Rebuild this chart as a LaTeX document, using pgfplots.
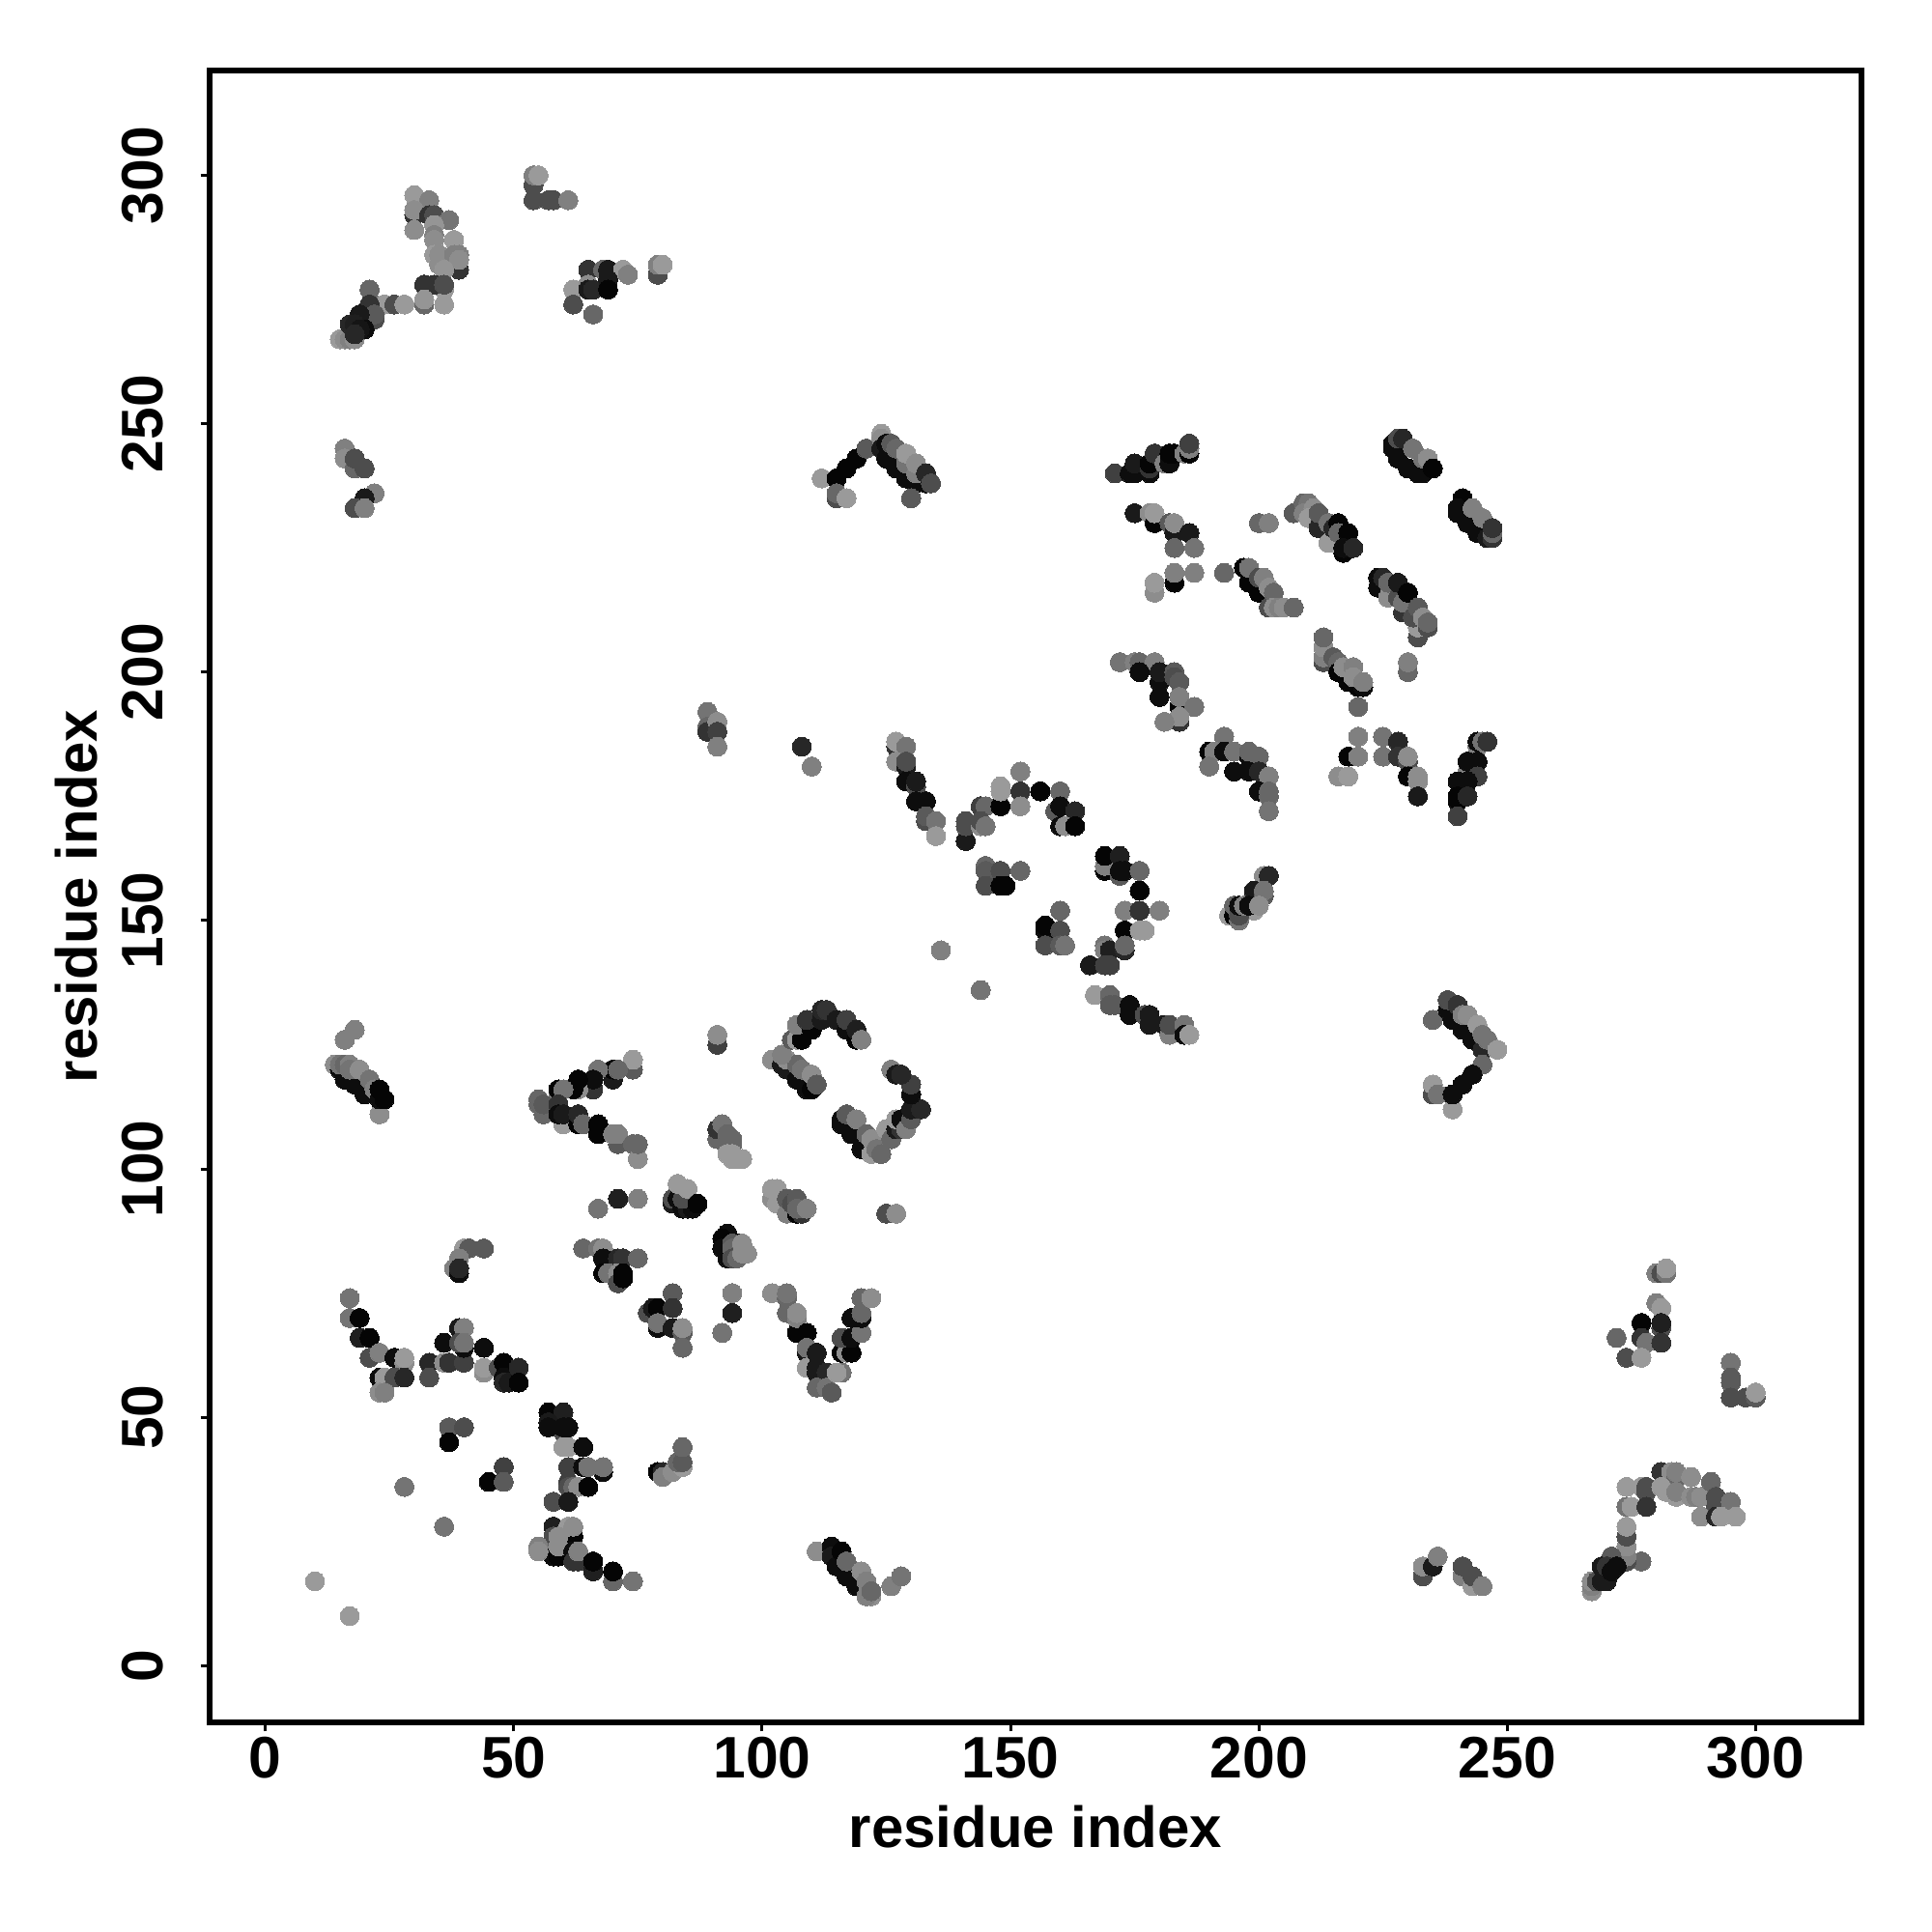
\documentclass[border=0pt]{standalone}
\usepackage{fontspec}
\setmainfont{Liberation Sans}
\usepackage{pgfplots}
\pgfplotsset{compat=1.18}
\begin{document}
\begin{tikzpicture}
\useasboundingbox (-1.736cm,-1.736cm) rectangle (14.264cm,14.264cm);
\begin{axis}[
  at={(0cm,0cm)}, anchor=south west, scale only axis,
  width=13.68cm, height=13.68cm,
  xmin=-11.2, xmax=321.3, ymin=-11.4, ymax=321.1,
  axis line style={line width=1.25pt},
  tick style={line width=0.7pt, black}, tick align=outside, major tick length=0.075cm,
  xtick={0,50,...,300}, ytick={0,50,...,300},
  xtick pos=lower, ytick pos=left,
  /pgf/number format/assume math mode=true,
  tick label style={font=\fontsize{13.8}{15}\selectfont\bfseries},
  xticklabel style={yshift=2.2pt},
  yticklabel style={rotate=90, anchor=south, yshift=5.2pt},
  label style={font=\fontsize{13.65}{16}\selectfont\bfseries},
  xlabel={residue index}, ylabel={residue index},
  xlabel style={at={(axis description cs:0.5,-0.063)}, anchor=center},
  ylabel style={at={(axis description cs:-0.0807,0.5)}, anchor=center},
  point meta min=0, point meta max=1,
  colormap={bw}{gray(0cm)=(0); gray(1cm)=(1)},
]
\addplot[scatter, only marks, mark=*, mark size=2.25pt, point meta=explicit,
  scatter/use mapped color={draw=mapped color, fill=mapped color}, mark options={line width=0pt}]
 table[row sep=\\, x=x, y=y, meta=g] {
x y g\\
30 296 .6\\ 33 295 .5\\ 30 292 .2\\ 30 293 .55\\ 30 289 .55\\ 33 292 .2\\ 34 292 .3\\ 37 291 .45\\ 34 290 .58\\ 34 288 .5\\ 34 287 .55\\ 38 287 .6\\ 39 281 .2\\ 34 284 .6\\ 35 284 .55\\ 35 282 .55\\ 38 284 .5\\ 39 284 .5\\ 39 283 .55\\ 36 281 .58\\ 36 277 .6\\ 32 278 .2\\ 34 278 .2\\ 36 278 .3\\ 32 274 .4\\ 32 275 .58\\ 36 274 .6\\ 22 274 .5\\ 24 274 .6\\ 26 274 .3\\ 28 274 .6\\ 21 277 .4\\ 21 274 .2\\ 22 271 .3\\ 22 272 .35\\ 15 267 .6\\ 16 267 .55\\ 17 267 .5\\ 18 267 .55\\ 19 272 .1\\ 17 270 .15\\ 18 270 .12\\ 20 269 .05\\ 19 269 .08\\ 18 268 .15\\
54 298 .3\\ 54 300 .5\\ 55 300 .6\\ 54 295 .3\\ 57 295 .3\\ 58 295 .3\\ 61 295 .5\\
65 281 .2\\ 68 281 .4\\ 69 281 .1\\ 72 281 .6\\ 73 280 .5\\ 62 277 .6\\ 65 278 .55\\ 65 277 .1\\ 66 277 .15\\ 69 279 .1\\ 69 277 .02\\ 62 274 .3\\ 66 272 .4\\ 79 280 .55\\ 79 280 .3\\ 79 282 .5\\ 80 282 .6\\
16 245 .5\\ 16 243 .55\\ 18 241 .4\\ 18 243 .3\\ 20 241 .3\\ 22 236 .5\\ 20 235 .1\\ 18 233 .3\\ 20 233 .5\\
112 239 .6\\ 115 239 .02\\ 117 241 .02\\ 119 243 .02\\ 121 245 .35\\ 115 235 .3\\ 115 236 .4\\ 117 235 .6\\ 124 248 .6\\ 124 247 .55\\ 124 245 .1\\ 125 246 .05\\ 125 243 .05\\ 127 241 .05\\ 129 239 .05\\ 131 238 .05\\ 133 238 .05\\ 126 246 .35\\ 127 245 .4\\ 129 242 .45\\ 129 244 .6\\ 131 240 .5\\ 131 242 .55\\ 133 240 .15\\ 134 238 .3\\ 130 235 .35\\
171 240 .25\\ 174 240 .05\\ 175 240 .05\\ 175 242 .1\\ 178 240 .05\\ 178 241 .2\\ 178 242 .02\\ 179 244 .2\\ 181 242 .5\\ 182 242 .05\\ 182 244 .02\\ 183 244 .02\\ 185 244 .5\\ 186 244 .02\\ 186 245 .5\\ 186 246 .25\\
175 232 .1\\ 178 232 .55\\ 179 230 .02\\ 179 232 .6\\ 182 230 .35\\ 183 228 .1\\ 183 230 .55\\ 186 228 .1\\ 183 225 .4\\ 187 225 .45\\ 179 216 .55\\ 179 218 .6\\ 183 218 .02\\ 183 220 .5\\ 187 220 .5\\ 193 220 .4\\ 200 230 .4\\ 202 230 .5\\
197 221 .02\\ 198 218 .02\\ 200 216 .02\\ 202 213 .3\\ 198 221 .45\\ 200 219 .3\\ 201 219 .5\\ 202 217 .55\\ 203 216 .4\\ 203 213 .55\\ 204 213 .5\\ 205 213 .55\\ 207 213 .4\\
207 232 .35\\ 209 234 .4\\ 210 234 .45\\ 209 232 .5\\ 211 233 .55\\ 210 231 .6\\ 212 229 .15\\ 212 232 .35\\ 214 230 .45\\ 214 226 .6\\ 215 229 .15\\ 216 230 .02\\ 216 228 .4\\ 218 226 .3\\ 218 228 .02\\ 217 224 .02\\ 217 225 .05\\ 219 225 .15\\
227 245 .05\\ 227 246 .05\\ 228 243 .05\\ 230 241 .05\\ 232 240 .05\\ 233 240 .05\\ 228 247 .3\\ 229 247 .15\\ 231 245 .45\\ 233 243 .45\\ 234 243 .55\\ 235 241 .02\\
241 235 .02\\ 240 233 .05\\ 240 232 .05\\ 242 230 .05\\ 244 228 .05\\ 246 227 .1\\ 243 233 .5\\ 245 231 .5\\ 247 227 .2\\ 247 228 .4\\ 247 229 .2\\
224 217 .05\\ 224 219 .05\\ 225 219 .15\\ 226 215 .55\\ 226 218 .4\\ 228 215 .3\\ 228 218 .1\\ 229 212 .2\\ 229 214 .45\\ 230 216 .02\\ 232 207 .3\\ 232 209 .6\\ 231 211 .3\\ 232 213 .35\\ 234 209 .3\\ 233 211 .55\\ 234 210 .4\\
213 202 .3\\ 213 203 .5\\ 213 205 .55\\ 213 207 .4\\ 215 203 .35\\ 216 202 .4\\ 216 200 .02\\ 218 198 .02\\ 220 197 .02\\ 221 197 .05\\ 217 201 .55\\ 219 201 .5\\ 219 199 .55\\ 221 198 .5\\ 220 193 .4\\ 230 200 .4\\ 230 202 .5\\
172 202 .45\\ 175 202 .5\\ 176 202 .4\\ 179 202 .5\\ 176 200 .05\\ 180 198 .05\\ 180 200 .1\\ 183 200 .35\\ 183 199 .3\\ 184 198 .35\\ 180 195 .05\\ 184 193 .02\\ 184 195 .5\\ 187 193 .45\\ 184 190 .2\\ 184 191 .55\\ 181 190 .5\\
193 187 .45\\ 190 184 .02\\ 191 184 .5\\ 193 184 .05\\ 195 184 .45\\ 190 181 .45\\ 198 183 .05\\ 198 184 .4\\ 200 183 .4\\ 195 180 .05\\ 198 180 .05\\ 200 180 .15\\ 202 179 .5\\ 200 176 .05\\ 202 175 .4\\ 202 176 .4\\ 202 172 .45\\
220 187 .5\\ 225 187 .45\\ 228 186 .15\\ 218 183 .02\\ 220 183 .5\\ 225 183 .45\\ 228 183 .2\\ 230 182 .3\\ 230 183 .55\\ 216 179 .55\\ 218 179 .6\\ 230 179 .02\\ 232 178 .55\\ 232 179 .55\\ 232 175 .1\\
244 185 .5\\ 244 186 .05\\ 245 186 .45\\ 246 186 .2\\ 242 180 .5\\ 242 182 .05\\ 244 182 .05\\ 244 179 .25\\ 240 178 .05\\ 242 178 .05\\ 240 174 .02\\ 240 175 .02\\ 242 175 .15\\ 240 171 .25\\
201 159 .55\\ 202 159 .15\\ 199 156 .1\\ 201 155 .35\\ 201 156 .45\\ 199 152 .6\\ 194 151 .6\\ 195 151 .02\\ 195 153 .4\\ 196 150 .45\\ 196 151 .3\\ 196 153 .05\\ 197 153 .5\\ 198 153 .05\\ 200 153 .55\\
235 130 .4\\ 238 132 .05\\ 239 130 .05\\ 241 128 .05\\ 243 126 .05\\ 245 124 .15\\ 238 134 .3\\ 240 133 .2\\ 241 131 .5\\ 242 131 .55\\ 244 129 .6\\ 245 127 .45\\ 246 126 .45\\ 248 124 .6\\ 245 121 .4\\ 243 119 .05\\ 241 117 .05\\ 235 115 .3\\ 235 117 .6\\ 236 115 .45\\ 239 112 .6\\ 239 115 .05\\
127 185 .2\\ 127 186 .6\\ 129 185 .45\\ 127 182 .55\\ 129 181 .1\\ 129 182 .3\\ 129 178 .05\\ 131 177 .3\\ 131 178 .1\\ 131 174 .05\\ 133 174 .05\\ 133 170 .3\\ 133 171 .35\\ 135 170 .45\\ 135 167 .6\\
141 166 .1\\ 141 169 .3\\ 141 170 .3\\ 144 173 .25\\ 145 173 .4\\ 144 169 .55\\ 144 170 .3\\ 145 169 .45\\ 148 173 .02\\ 148 176 .6\\ 148 177 .6\\ 152 180 .5\\ 152 176 .2\\ 152 173 .55\\ 156 176 .02\\ 160 176 .4\\ 159 172 .35\\ 160 173 .05\\ 163 172 .15\\ 160 169 .05\\ 161 169 .55\\ 163 169 .02\\
145 161 .4\\ 145 160 .35\\ 148 160 .3\\ 152 160 .4\\ 145 157 .3\\ 148 157 .02\\ 149 157 .02\\
160 152 .4\\ 157 148 .05\\ 157 149 .02\\ 160 148 .3\\ 157 145 .3\\ 160 145 .35\\ 161 145 .45\\ 136 144 .5\\ 144 136 .45\\
169 160 .02\\ 169 161 .5\\ 169 163 .02\\ 172 159 .35\\ 172 163 .12\\ 172 160 .05\\ 173 160 .05\\ 176 160 .4\\ 176 156 .02\\ 173 152 .5\\ 176 152 .2\\ 180 152 .5\\ 173 148 .02\\ 176 148 .6\\ 177 148 .6\\ 169 145 .45\\ 169 144 .5\\ 170 144 .12\\ 173 144 .15\\ 173 145 .4\\ 166 141 .1\\ 169 141 .25\\ 170 141 .25\\
167 135 .6\\ 170 135 .4\\ 170 133 .35\\ 171 133 .35\\ 174 133 .05\\ 174 131 .05\\ 177 131 .3\\ 178 129 .1\\ 178 131 .1\\ 181 129 .1\\ 182 127 .5\\ 182 129 .3\\ 185 129 .45\\ 185 127 .05\\ 186 127 .6\\
108 185 .15\\ 110 181 .5\\ 89 192 .45\\ 89 189 .4\\ 89 188 .2\\ 91 190 .55\\ 91 188 .25\\ 91 185 .5\\
18 128 .5\\ 16 126 .5\\ 14 121 .55\\ 15 120 .05\\ 16 118 .05\\ 18 117 .05\\ 20 115 .05\\ 15 121 .45\\ 16 121 .4\\ 17 121 .5\\ 17 120 .45\\ 19 120 .55\\ 21 118 .45\\ 22 116 .5\\ 23 111 .55\\ 23 114 .05\\ 23 116 .02\\ 24 114 .02\\
74 120 .35\\ 74 122 .6\\ 70 118 .1\\ 70 120 .02\\ 71 120 .4\\ 67 120 .45\\ 66 116 .2\\ 66 118 .05\\ 63 116 .55\\ 62 116 .02\\ 63 118 .02\\ 59 115 .5\\ 59 116 .02\\ 60 116 .45\\
55 114 .4\\ 56 111 .4\\ 55 113 .4\\ 56 113 .35\\ 60 109 .6\\ 59 113 .2\\ 59 111 .05\\ 60 111 .1\\ 63 109 .02\\ 63 111 .15\\ 64 109 .4\\ 67 107 .02\\ 67 109 .02\\ 71 105 .35\\ 70 107 .5\\ 71 107 .5\\ 74 105 .4\\ 75 102 .55\\ 75 105 .4\\ 67 92 .45\\ 71 94 .12\\ 75 94 .5\\
82 93 .1\\ 82 94 .3\\ 83 94 .05\\ 84 92 .05\\ 85 92 .1\\ 86 92 .05\\ 84 94 .3\\ 83 97 .6\\ 85 96 .6\\ 87 93 .02\\ 91 125 .25\\ 91 127 .55\\
91 106 .4\\ 91 108 .2\\ 92 109 .45\\ 93 107 .4\\ 94 106 .4\\ 94 105 .4\\ 93 103 .6\\ 94 103 .6\\ 94 102 .6\\ 95 102 .6\\ 96 102 .6\\
102 94 .55\\ 102 96 .6\\ 103 96 .6\\ 103 93 .6\\ 105 91 .5\\ 105 94 .35\\ 106 93 .3\\ 107 94 .35\\ 107 91 .02\\ 108 91 .2\\ 107 92 .4\\ 109 92 .5\\ 125 91 .3\\ 127 91 .55\\
102 122 .55\\ 103 122 .55\\ 104 121 .1\\ 105 120 .1\\ 107 118 .05\\ 109 116 .05\\ 110 116 .02\\ 105 122 .55\\ 107 121 .4\\ 108 120 .45\\ 110 119 .55\\ 111 117 .35\\ 104 123 .5\\ 106 126 .35\\ 107 126 .6\\ 108 126 .02\\ 107 129 .5\\ 110 128 .02\\ 109 130 .2\\ 112 130 .1\\ 112 132 .15\\ 113 132 .2\\ 115 130 .1\\ 117 128 .05\\ 117 130 .25\\ 119 126 .02\\ 119 128 .12\\ 120 126 .5\\
116 109 .05\\ 116 110 .05\\ 118 107 .05\\ 120 104 .05\\ 117 111 .35\\ 119 110 .5\\ 121 107 .4\\ 122 103 .6\\ 122 106 .55\\ 123 104 .45\\ 124 103 .4\\ 125 108 .6\\ 126 106 .4\\ 127 108 .1\\ 128 108 .2\\ 127 110 .6\\ 128 110 .05\\ 129 108 .5\\ 130 110 .35\\ 130 112 .1\\ 132 112 .15\\ 130 115 .05\\ 130 117 .25\\ 126 120 .5\\ 127 119 .1\\ 128 119 .15\\
17 74 .45\\ 17 70 .45\\ 19 70 .02\\ 19 66 .12\\ 21 66 .02\\ 21 62 .3\\ 23 63 .5\\ 26 62 .05\\ 28 61 .55\\ 28 62 .6\\ 23 58 .05\\ 24 56 .55\\ 24 58 .6\\ 26 58 .3\\ 28 58 .15\\ 23 55 .55\\ 24 55 .5\\ 33 61 .15\\ 33 58 .3\\ 36 65 .05\\ 36 61 .55\\ 37 61 .2\\ 40 61 .25\\ 40 64 .05\\ 39 68 .1\\ 40 68 .5\\ 39 65 .3\\ 40 65 .45\\ 44 64 .05\\ 44 59 .55\\ 44 60 .6\\ 47 60 .3\\ 48 61 .02\\ 48 58 .05\\ 48 57 .15\\ 49 57 .1\\ 51 60 .15\\ 51 57 .02\\
37 48 .35\\ 40 48 .3\\ 37 45 .02\\ 28 36 .45\\ 36 28 .45\\ 10 17 .6\\ 17 10 .6\\ 48 40 .25\\ 45 37 .02\\ 48 37 .35\\
57 51 .02\\ 60 51 .12\\ 57 49 .1\\ 60 47 .3\\ 57 48 .05\\ 60 48 .05\\ 61 48 .05\\ 60 44 .6\\ 61 44 .6\\ 64 44 .05\\ 61 40 .25\\ 68 39 .05\\ 64 40 .05\\ 65 40 .45\\ 68 40 .45\\ 61 37 .25\\ 61 36 .3\\ 62 36 .4\\ 63 36 .55\\ 65 36 .02\\ 58 33 .3\\ 61 33 .1\\
79 39 .02\\ 80 39 .15\\ 80 38 .5\\ 82 39 .55\\ 84 40 .6\\ 83 41 .4\\ 84 41 .35\\ 84 44 .4\\
58 28 .12\\ 58 26 .3\\ 62 26 .02\\ 58 22 .05\\ 59 22 .02\\ 61 28 .6\\ 62 28 .55\\ 59 26 .55\\ 59 24 .55\\ 55 24 .5\\ 55 23 .55\\ 62 23 .05\\ 62 21 .2\\ 63 21 .2\\ 63 23 .5\\ 66 19 .12\\ 66 21 .02\\ 70 17 .4\\ 70 19 .02\\ 74 17 .45\\
82 75 .35\\ 77 71 .3\\ 78 72 .1\\ 79 72 .02\\ 82 72 .2\\ 79 68 .05\\ 79 69 .45\\ 82 68 .1\\ 84 67 .35\\ 84 68 .55\\ 84 64 .4\\ 92 67 .45\\ 94 75 .5\\ 94 71 .12\\
93 87 .05\\ 92 86 .02\\ 92 84 .05\\ 93 82 .05\\ 95 85 .02\\ 94 85 .35\\ 94 84 .4\\ 94 82 .3\\ 95 82 .4\\ 96 85 .55\\ 97 83 .55\\ 96 83 .55\\
102 75 .55\\ 105 71 .4\\ 105 74 .4\\ 105 75 .45\\ 107 67 .02\\ 107 70 .5\\ 107 71 .55\\ 109 67 .02\\ 109 63 .1\\ 109 64 .45\\ 109 60 .6\\ 111 63 .1\\ 111 59 .1\\ 111 60 .1\\ 113 59 .15\\ 111 56 .4\\ 113 56 .45\\ 114 55 .35\\ 116 59 .02\\ 116 59 .45\\ 115 59 .6\\ 116 63 .02\\ 117 63 .55\\ 118 63 .02\\ 116 66 .3\\ 118 66 .05\\ 120 67 .45\\ 118 70 .05\\ 120 70 .05\\ 120 71 .4\\ 120 74 .4\\ 122 74 .55\\
111 23 .55\\ 114 24 .05\\ 114 22 .1\\ 115 20 .05\\ 116 23 .02\\ 117 18 .05\\ 119 16 .05\\ 117 21 .4\\ 120 19 .55\\ 121 17 .5\\ 122 14 .55\\ 121 14 .5\\ 122 15 .4\\ 126 16 .5\\ 128 18 .45\\
64 84 .4\\ 67 84 .45\\ 68 84 .55\\ 68 82 .05\\ 71 82 .15\\ 72 82 .2\\ 75 82 .4\\ 68 79 .02\\ 69 79 .45\\ 71 79 .55\\ 71 77 .3\\ 72 78 .02\\ 72 79 .02\\
44 84 .35\\ 40 84 .6\\ 41 84 .35\\ 39 82 .5\\ 38 80 .5\\ 39 79 .05\\ 39 80 .15\\
280 79 .5\\ 281 79 .3\\ 282 79 .45\\ 282 80 .6\\ 280 73 .5\\ 281 72 .6\\ 277 69 .02\\ 281 68 .3\\ 281 69 .12\\ 272 66 .4\\ 277 66 .2\\ 278 65 .45\\ 281 65 .2\\ 274 62 .3\\ 277 62 .6\\
295 61 .45\\ 295 58 .35\\ 295 57 .35\\ 295 54 .3\\ 298 54 .3\\ 300 54 .35\\ 300 55 .6\\
274 36 .6\\ 277 36 .6\\ 278 35 .3\\ 278 36 .3\\ 274 32 .45\\ 275 32 .6\\ 278 32 .2\\ 281 39 .2\\ 283 39 .55\\ 284 38 .4\\ 284 39 .5\\ 287 38 .55\\ 281 36 .6\\ 282 35 .6\\ 284 34 .6\\ 284 35 .5\\ 287 34 .55\\ 288 34 .5\\ 289 34 .55\\ 291 37 .4\\ 292 32 .3\\ 292 34 .3\\ 295 33 .45\\ 289 30 .55\\ 292 30 .15\\ 293 30 .6\\ 296 30 .6\\
277 21 .4\\ 274 21 .3\\ 274 22 .5\\ 274 24 .55\\ 274 26 .3\\ 274 28 .6\\ 271 22 .35\\ 267 15 .55\\ 267 16 .5\\ 267 17 .55\\ 268 17 .3\\ 269 17 .1\\ 270 17 .1\\ 269 20 .1\\ 270 20 .2\\ 271 19 .05\\ 272 20 .05\\
233 18 .3\\ 233 20 .55\\ 235 20 .1\\ 236 22 .5\\ 241 18 .5\\ 241 20 .3\\ 243 16 .6\\ 243 18 .3\\ 245 16 .5\\
};
\end{axis}
\end{tikzpicture}
\end{document}
